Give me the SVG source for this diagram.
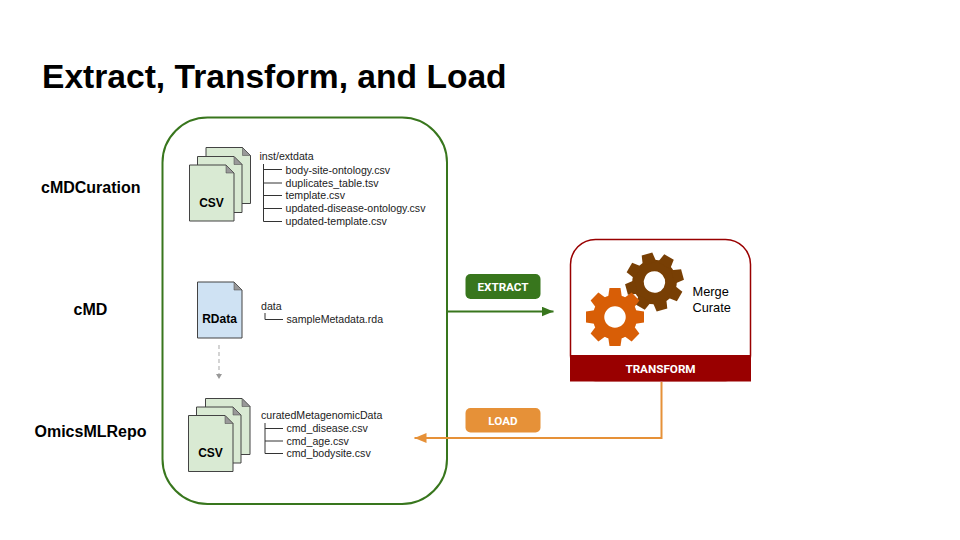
<svg xmlns="http://www.w3.org/2000/svg" width="960" height="540" viewBox="0 0 960 540">
<style>
text{font-family:"Liberation Sans",Arial,sans-serif;fill:#000}
.t{font-size:10.6px;fill:#222}
.lab{font-size:16px;font-weight:700}
.ic{font-size:12px;font-weight:700;text-anchor:middle}
.pill{font-family:Roboto,"Liberation Sans",sans-serif;font-size:11.7px;font-weight:700;fill:#fff;text-anchor:middle}
.doc{stroke:#434343;stroke-width:1}
.g{fill:#d9ead3}
.b{fill:#cfe2f3}
.fold{fill:#999;stroke:#434343;stroke-width:.5}
.tree{fill:none;stroke:#333;stroke-width:1}
</style>
<defs>
<g id="sheet">
<path class="doc" d="M0 0H36.5L44.5 8V56H0Z"/>
<path class="fold" d="M36.500 0L44.500 8H36.500Z"/>
</g>
<g id="gear">
<circle r="16.500" fill="none" stroke="currentColor" stroke-width="11.500"/>
<g fill="currentColor">
<path id="tooth" d="M-7 -19L-5.500 -29H5.500L7 -19Z"/>
<use href="#tooth" transform="rotate(45)"/>
<use href="#tooth" transform="rotate(90)"/>
<use href="#tooth" transform="rotate(135)"/>
<use href="#tooth" transform="rotate(180)"/>
<use href="#tooth" transform="rotate(225)"/>
<use href="#tooth" transform="rotate(270)"/>
<use href="#tooth" transform="rotate(315)"/>
</g>
</g>
<marker id="ag" markerUnits="userSpaceOnUse" markerWidth="13" markerHeight="11" refX="12" refY="5" orient="auto"><path d="M0 0L12 5L0 10Z" fill="#38761d"/></marker>
<marker id="ao" markerUnits="userSpaceOnUse" markerWidth="13" markerHeight="11" refX="12" refY="5" orient="auto"><path d="M0 0L12 5L0 10Z" fill="#e69138"/></marker>
<marker id="ay" markerUnits="userSpaceOnUse" markerWidth="7" markerHeight="7" refX="3" refY="5" orient="0"><path d="M0 0H6L3 5Z" fill="#999"/></marker>
</defs>
<rect width="960" height="540" fill="#fff"/>
<text x="42" y="88" font-size="33.600" font-weight="700">Extract, Transform, and Load</text>
<text class="lab" x="41" y="193">cMDCuration</text>
<text class="lab" x="73.500" y="315">cMD</text>
<text class="lab" x="34.500" y="437">OmicsMLRepo</text>

<g id="repo-box"><rect x="162.500" y="117.500" width="284.500" height="386.500" rx="45" fill="none" stroke="#38761d" stroke-width="2"/></g>

<g id="csv-top">
<use href="#sheet" class="g" x="206" y="147.500"/>
<use href="#sheet" class="g" x="197.500" y="156.500"/>
<use href="#sheet" class="g" x="189.500" y="165"/>
<text class="ic" x="211.500" y="207">CSV</text>
</g>
<g id="tree-top">
<text class="t" x="259.500" y="160">inst/extdata</text>
<path class="tree" d="M263.500 164V221.500H282M263.500 169.500H282M263.500 183H282M263.500 195.500H282M263.500 208.500H282"/>
<text class="t" x="285.500" y="173.500">body-site-ontology.csv</text>
<text class="t" x="285.500" y="186.500">duplicates_table.tsv</text>
<text class="t" x="285.500" y="199">template.csv</text>
<text class="t" x="285.500" y="212">updated-disease-ontology.csv</text>
<text class="t" x="285.500" y="224.500">updated-template.csv</text>
</g>

<g id="rdata">
<use href="#sheet" class="b" x="197.500" y="282"/>
<text class="ic" x="219.500" y="323">RData</text>
</g>
<g id="tree-mid">
<text class="t" x="261" y="310">data</text>
<path class="tree" d="M265 313V319.500H283"/>
<text class="t" x="286.500" y="323">sampleMetadata.rda</text>
</g>

<g id="csv-bottom">
<use href="#sheet" class="g" x="205.500" y="398.500"/>
<use href="#sheet" class="g" x="196.500" y="407"/>
<use href="#sheet" class="g" x="188.500" y="415.500"/>
<text class="ic" x="210.500" y="457">CSV</text>
</g>
<g id="tree-bottom">
<text class="t" x="261" y="419">curatedMetagenomicData</text>
<path class="tree" d="M265 423V453.500H283M265 428.500H283M265 441H283"/>
<text class="t" x="286.500" y="432">cmd_disease.csv</text>
<text class="t" x="286.500" y="444.500">cmd_age.csv</text>
<text class="t" x="286.500" y="457">cmd_bodysite.csv</text>
</g>

<g id="transform">
<rect x="570.500" y="239.500" width="180" height="141" rx="25" fill="#fff" stroke="#990000" stroke-width="1.500"/>
<path d="M570 355H751V381.500H570Z" fill="#990000"/>
<use href="#gear" x="0" y="0" transform="translate(654.500 282) rotate(-15)" color="#783f04"/>
<use href="#gear" x="0" y="0" transform="translate(615 317)" color="#d85e06"/>
<text x="692.500" y="295.500" font-size="12.800" fill="#222">Merge</text>
<text x="692.500" y="311.500" font-size="12.800" fill="#222">Curate</text>
<text class="pill" x="660.500" y="373">TRANSFORM</text>
</g>

<g id="extract"><rect x="465.500" y="274" width="75" height="25" rx="5" fill="#38761d"/><text class="pill" x="503" y="291">EXTRACT</text></g>
<g id="load"><rect x="465.500" y="408" width="75" height="24.500" rx="5" fill="#e69138"/><text class="pill" x="503" y="425">LOAD</text></g>

<g id="connectors" fill="none">
<path d="M447 311.500H553.500" stroke="#38761d" stroke-width="2" marker-end="url(#ag)"/>
<path d="M661.500 382V438H414.500" stroke="#e69138" stroke-width="2" marker-end="url(#ao)"/>
<path d="M219 345V379" stroke="#b7b7b7" stroke-width="1.200" stroke-dasharray="4 3" marker-end="url(#ay)"/>
</g>
</svg>
